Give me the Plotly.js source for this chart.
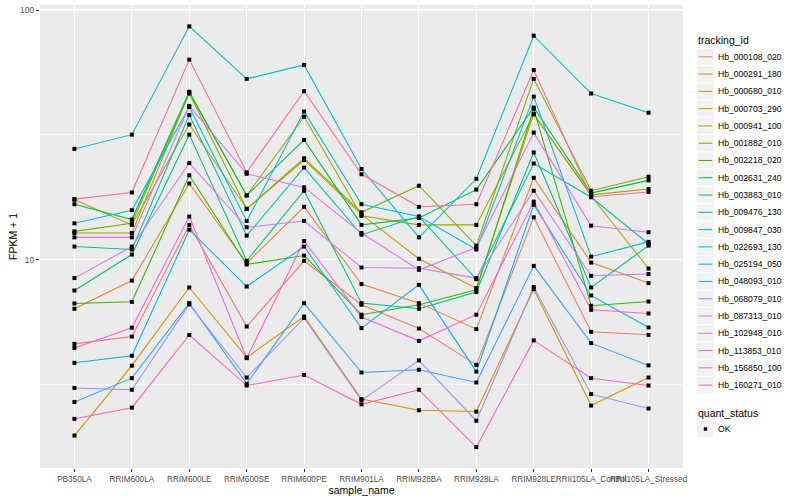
<!DOCTYPE html>
<html><head><meta charset="utf-8">
<script src="https://cdn.plot.ly/plotly-3.0.1.min.js"></script>
<style>html,body{margin:0;padding:0;background:#fff}#chart{width:800px;height:500px}</style>
</head><body><div id="chart"></div>
<script>
// ---- data (FPKM + 1) ----
const samples = ["PB350LA","RRIM600LA","RRIM600LE","RRIM600SE","RRIM600PE","RRIM901LA","RRIM928BA","RRIM928LA","RRIM928LE","RRII105LA_Control","RRII105LA_Stressed"];
const trackingIds = ["Hb_000108_020","Hb_000291_180","Hb_000680_010","Hb_000703_290","Hb_000941_100","Hb_001882_010","Hb_002218_020","Hb_002631_240","Hb_003883_010","Hb_009476_130","Hb_009847_030","Hb_022693_130","Hb_025194_050","Hb_048093_010","Hb_068079_010","Hb_087313_010","Hb_102948_010","Hb_113853_010","Hb_156850_100","Hb_160271_010"];
const colors = ["#F8766D","#EA8331","#D89000","#C09B00","#A3A500","#7CAE00","#39B600","#00BB4E","#00BF7D","#00C1A3","#00BFC4","#00BAE0","#00B0F6","#35A2FF","#9590FF","#C77CFF","#E76BF3","#FA62DB","#FF62BC","#FF6C91"];

const Hb_000108_020 = [4.61, 4.93, 13.8, 5.41, 9.91, 6.61, 5.31, 3.80, 14.8, 5.15, 5.01];
const Hb_000291_180 = [6.37, 8.26, 20.2, 9.70, 16.3, 8.00, 6.71, 5.28, 21.3, 9.75, 8.07];
const Hb_000680_010 = [1.98, 3.77, 7.75, 4.07, 5.93, 2.77, 2.50, 2.47, 7.63, 2.61, 3.38];
const Hb_000703_290 = [17.4, 13.8, 34.8, 16.0, 25.1, 15.2, 10.1, 7.70, 38.4, 18.0, 9.23];
const Hb_000941_100 = [12.8, 12.8, 46.7, 18.1, 37.4, 15.0, 13.8, 13.8, 38.2, 18.2, 19.2];
const Hb_001882_010 = [13.0, 14.0, 46.3, 16.0, 25.5, 15.5, 19.8, 11.4, 53.0, 18.9, 21.5];
const Hb_002218_020 = [6.69, 6.79, 21.8, 9.58, 10.4, 6.03, 6.61, 7.59, 40.2, 6.55, 6.81];
const Hb_002631_240 = [16.7, 14.5, 47.1, 18.1, 30.2, 13.8, 14.7, 19.1, 40.7, 18.5, 20.8];
const Hb_003883_010 = [7.54, 10.5, 31.7, 9.91, 18.9, 6.71, 6.37, 7.43, 26.9, 7.75, 11.4];
const Hb_009476_130 = [11.3, 11.0, 38.0, 12.5, 23.4, 12.6, 14.9, 8.37, 24.3, 17.8, 11.6];
const Hb_009847_030 = [27.8, 31.7, 86.0, 53.0, 60.3, 23.1, 12.3, 21.1, 78.9, 46.3, 38.8];
const Hb_022693_130 = [14.0, 15.8, 40.9, 14.3, 39.2, 16.7, 14.9, 11.0, 45.0, 10.3, 11.8];
const Hb_025194_050 = [3.87, 4.13, 13.2, 7.82, 11.3, 5.33, 7.94, 3.57, 16.6, 7.20, 5.36];
const Hb_048093_010 = [2.70, 3.36, 6.71, 3.19, 6.71, 3.54, 3.63, 3.23, 9.46, 4.64, 3.78];
const Hb_068079_010 = [3.07, 3.02, 6.63, 3.38, 5.85, 2.74, 3.96, 2.27, 7.78, 2.90, 2.54];
const Hb_087313_010 = [8.45, 11.3, 24.4, 13.5, 14.3, 9.32, 9.26, 8.45, 18.9, 8.63, 8.77];
const Hb_102948_010 = [12.3, 12.3, 41.3, 22.1, 19.5, 12.8, 9.12, 11.2, 32.3, 13.7, 12.9];
const Hb_113853_010 = [4.44, 5.35, 14.9, 4.04, 11.9, 5.90, 4.74, 6.03, 17.1, 6.31, 6.10];
const Hb_156850_100 = [2.31, 2.56, 5.00, 3.14, 3.46, 2.64, 3.02, 1.78, 4.76, 3.36, 3.14];
const Hb_160271_010 = [17.5, 18.6, 63.3, 22.4, 47.3, 22.0, 16.3, 16.7, 57.5, 17.9, 18.7];

const seriesValues = [Hb_000108_020, Hb_000291_180, Hb_000680_010, Hb_000703_290, Hb_000941_100, Hb_001882_010, Hb_002218_020, Hb_002631_240, Hb_003883_010, Hb_009476_130, Hb_009847_030, Hb_022693_130, Hb_025194_050, Hb_048093_010, Hb_068079_010, Hb_087313_010, Hb_102948_010, Hb_113853_010, Hb_156850_100, Hb_160271_010];
const yTickVals = [10, 100];
const yTickText = ["10", "100"];

// ---- traces ----
const FONT = "Liberation Sans, Arial, Helvetica, sans-serif";
const traces = seriesValues.map((vals, i) => ({
  type: "scatter", mode: "lines", x: samples, y: vals, name: trackingIds[i],
  line: {color: colors[i], width: 1.05}, showlegend: false, hoverinfo: "x+y+name"
}));
const allX = [], allY = [];
seriesValues.forEach(vals => vals.forEach((v, j) => { allX.push(samples[j]); allY.push(v); }));
traces.push({type: "scatter", mode: "markers", x: allX, y: allY, name: "OK",
  marker: {symbol: "square", size: 4, color: "black"}, showlegend: false});

// ---- hand-built ggplot-style legend (paper coords from pixels) ----
const L = 40, R = 117, T = 5, B = 32, W = 800, H = 500;
const pw = W - L - R, ph = H - T - B;
const px = X => (X - L) / pw;
const py = Y => (H - B - Y) / ph;
const shapes = [], annotations = [];
annotations.push({xref: "paper", yref: "paper", x: px(696), y: py(40.5), xanchor: "left", yanchor: "middle",
  text: "tracking_id", showarrow: false, font: {family: FONT, size: 10.5, color: "black"}});
trackingIds.forEach((id, i) => {
  const cy = 56.8 + 17.28 * i;
  shapes.push({type: "rect", xref: "paper", yref: "paper", x0: px(697), x1: px(714), y0: py(cy - 8.1), y1: py(cy + 8.1),
    fillcolor: "#F2F2F2", line: {width: 0}, layer: "above"});
  shapes.push({type: "line", xref: "paper", yref: "paper", x0: px(698.7), x1: px(712.3), y0: py(cy), y1: py(cy),
    line: {color: colors[i], width: 1.05}, layer: "above"});
  annotations.push({xref: "paper", yref: "paper", x: px(716), y: py(cy), xanchor: "left", yanchor: "middle",
    text: id, showarrow: false, font: {family: FONT, size: 8.6, color: "black"}});
});
annotations.push({xref: "paper", yref: "paper", x: px(696), y: py(412.5), xanchor: "left", yanchor: "middle",
  text: "quant_status", showarrow: false, font: {family: FONT, size: 10.5, color: "black"}});
shapes.push({type: "rect", xref: "paper", yref: "paper", x0: px(697), x1: px(714), y0: py(429 - 8.1), y1: py(429 + 8.1),
  fillcolor: "#F2F2F2", line: {width: 0}, layer: "above"});
shapes.push({type: "rect", xref: "paper", yref: "paper", x0: px(703.8), x1: px(707.2), y0: py(427.3), y1: py(430.7),
  fillcolor: "black", line: {width: 0}, layer: "above"});
annotations.push({xref: "paper", yref: "paper", x: px(716), y: py(429), xanchor: "left", yanchor: "middle",
  text: "OK", showarrow: false, font: {family: FONT, size: 8.6, color: "black"}});

const layout = {
  width: W, height: H, margin: {l: L, r: R, t: T, b: B, pad: 0},
  paper_bgcolor: "white", plot_bgcolor: "#EBEBEB",
  font: {family: FONT, size: 8.2, color: "#4D4D4D"},
  showlegend: false,
  xaxis: {type: "category", categoryorder: "array", categoryarray: samples, range: [-0.6, 10.6],
    tickangle: 0, ticks: "outside", ticklen: 3, tickwidth: 1, tickcolor: "#333333",
    tickfont: {family: FONT, size: 8.2, color: "#4D4D4D"},
    showgrid: true, gridcolor: "white", gridwidth: 1.1, zeroline: false, showline: false,
    title: {text: "sample_name", font: {family: FONT, size: 10.5, color: "black"}, standoff: 2}},
  yaxis: {type: "log", range: [0.1668, 2.02], tickmode: "array", tickvals: yTickVals, ticktext: yTickText,
    ticks: "outside", ticklen: 3, tickwidth: 1, tickcolor: "#333333",
    tickfont: {family: FONT, size: 8.5, color: "#4D4D4D"},
    showgrid: true, gridcolor: "white", gridwidth: 1.1, zeroline: false, showline: false,
    minor: {tickmode: "array", tickvals: [Math.sqrt(10), Math.sqrt(1000)], showgrid: true, gridcolor: "white", gridwidth: 0.55, ticks: ""},
    title: {text: "FPKM + 1", font: {family: FONT, size: 10.5, color: "black"}, standoff: 0}},
  shapes: shapes, annotations: annotations
};
Plotly.newPlot("chart", traces, layout, {displayModeBar: false, staticPlot: true});
</script></body></html>
